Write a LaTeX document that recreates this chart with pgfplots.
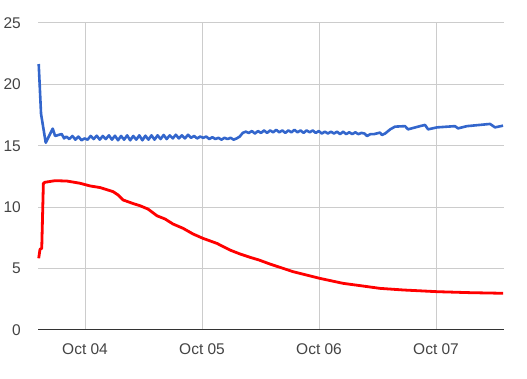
\documentclass[border=0pt]{standalone}
\usepackage{fontspec}
\setmainfont{Liberation Sans}
\usepackage{pgfplots}
\pgfplotsset{compat=1.18}
\definecolor{gridgrey}{HTML}{CCCCCC}
\definecolor{basegrey}{HTML}{333333}
\definecolor{labgrey}{HTML}{444444}
\definecolor{gblue}{HTML}{3366CC}
\definecolor{gred}{HTML}{FF0000}
\begin{document}
\begin{tikzpicture}[x=1pt,y=1pt]
\begin{axis}[
  name=ax,
  scale only axis,
  width=466pt, height=307pt,
  xmin=-0.402, xmax=3.581,
  ymin=0, ymax=25,
  xtick={0,1,2,3},
  xticklabels={Oct 04,Oct 05,Oct 06,Oct 07},
  ytick={5,10,15,20,25},
  extra y ticks={0},
  extra y tick labels={0},
  extra y tick style={grid=major, major grid style={color=basegrey, line width=1pt}},
  grid=major,
  major grid style={color=gridgrey, line width=1pt},
  axis line style={draw=none},
  major tick length=0pt,
  tick style={draw=none},
  /pgf/number format/assume math mode=true,
  ticklabel style={font=\fontsize{15.5}{18}\selectfont, text=labgrey, inner sep=0pt},
  yticklabel style={anchor=east, xshift=-17pt},
  xticklabel style={anchor=base, yshift=-25pt},
  clip=false,
]
\addplot[color=gblue, line width=2.6pt, line join=round] coordinates {
(-0.396,21.66) (-0.376,17.6) (-0.336,15.25) (-0.276,16.4) (-0.256,15.8) (-0.199,15.96) (-0.179,15.6)
(-0.160,15.75) (-0.134,15.55) (-0.108,15.8) (-0.082,15.5) (-0.056,15.75) (-0.030,15.45)
(-0.004,15.6) (0.022,15.5) (0.048,15.8) (0.074,15.55) (0.100,15.82) (0.126,15.5)
(0.152,15.8) (0.178,15.55) (0.204,15.85) (0.230,15.5) (0.256,15.82) (0.282,15.45)
(0.308,15.8) (0.334,15.5) (0.360,15.85) (0.386,15.45) (0.412,15.8) (0.438,15.5)
(0.464,15.85) (0.490,15.45) (0.516,15.82) (0.542,15.5) (0.568,15.85) (0.594,15.5)
(0.620,15.85) (0.646,15.55) (0.672,15.88) (0.698,15.55) (0.724,15.85) (0.750,15.6)
(0.776,15.9) (0.802,15.6) (0.828,15.85) (0.854,15.6) (0.880,15.9) (0.906,15.65)
(0.932,15.8) (0.958,15.6) (0.984,15.75) (1.010,15.65) (1.036,15.75) (1.062,15.55)
(1.088,15.7) (1.114,15.55) (1.140,15.65) (1.166,15.5) (1.192,15.65) (1.218,15.55)
(1.244,15.65) (1.270,15.5) (1.296,15.6) (1.322,15.75) (1.348,16.05) (1.374,16.15)
(1.400,16.05) (1.426,16.2) (1.452,16.0) (1.478,16.2) (1.504,16.05) (1.530,16.25)
(1.556,16.05) (1.582,16.25) (1.608,16.1) (1.634,16.3) (1.660,16.1) (1.686,16.25)
(1.712,16.05) (1.738,16.25) (1.764,16.1) (1.790,16.3) (1.816,16.1) (1.842,16.25)
(1.868,16.05) (1.894,16.25) (1.920,16.1) (1.946,16.25) (1.972,16.05) (1.998,16.2)
(2.024,16.0) (2.050,16.15) (2.076,16.0) (2.102,16.15) (2.128,16.0) (2.154,16.15)
(2.180,15.95) (2.206,16.15) (2.232,15.95) (2.258,16.1) (2.284,15.95) (2.310,16.1)
(2.336,15.95) (2.362,16.05) (2.388,16.0) (2.410,15.8) (2.440,15.95) (2.470,15.95)
(2.521,16.07) (2.538,15.88) (2.565,16.0) (2.610,16.35) (2.650,16.56) (2.735,16.6)
(2.761,16.34) (2.863,16.6) (2.906,16.7) (2.932,16.34) (3.009,16.5) (3.162,16.6)
(3.188,16.42) (3.265,16.6) (3.462,16.78) (3.504,16.5) (3.573,16.64)
};
\addplot[color=gred, line width=2.8pt, line join=round] coordinates {
(-0.396,5.84) (-0.385,6.57) (-0.370,6.65) (-0.356,11.95) (-0.342,12.03) (-0.256,12.16)
(-0.156,12.13) (-0.043,11.95) (0.043,11.73) (0.128,11.6) (0.239,11.27) (0.282,11.0)
(0.325,10.59) (0.410,10.3) (0.470,10.12) (0.538,9.85) (0.615,9.3) (0.684,9.04)
(0.752,8.63) (0.838,8.28) (0.923,7.82) (1.009,7.46) (1.128,7.05) (1.239,6.51)
(1.325,6.19) (1.410,5.92) (1.487,5.7) (1.581,5.37) (1.778,4.75) (2.009,4.2)
(2.205,3.8) (2.376,3.58) (2.521,3.39) (2.718,3.26) (3.009,3.12) (3.291,3.04) (3.573,2.99)
};
\end{axis}
\pgfresetboundingbox
\useasboundingbox (ax.south west) ++(-38pt,-49pt) rectangle ++(527pt,379pt);
\end{tikzpicture}
\end{document}
